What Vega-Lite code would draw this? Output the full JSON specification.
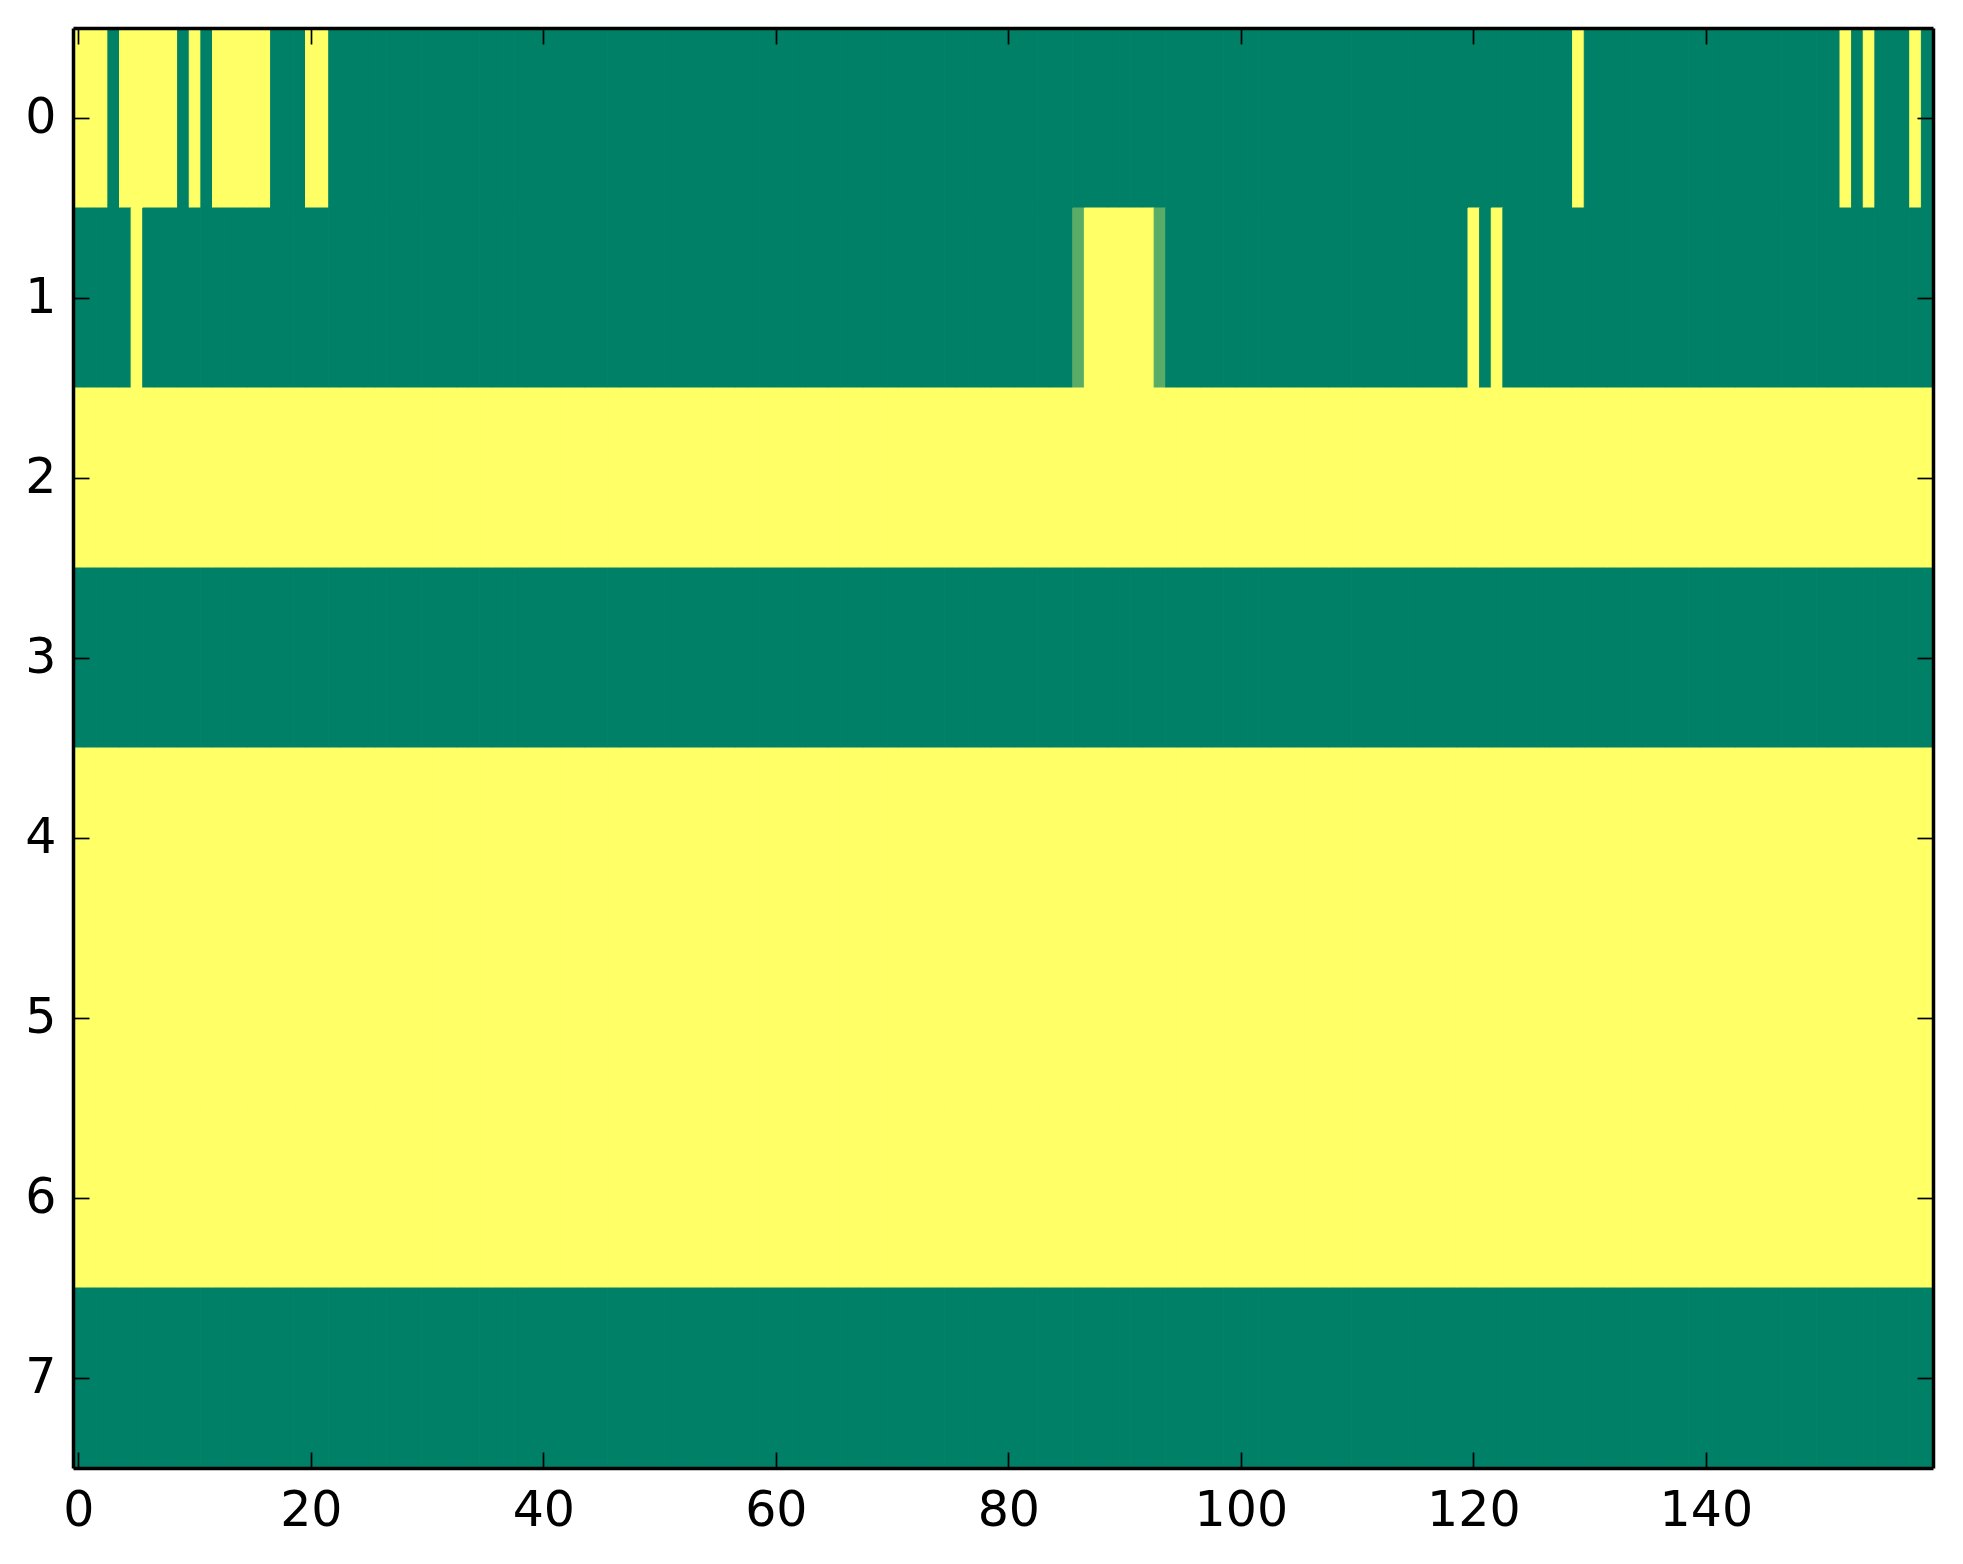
{
"$schema": "https://vega.github.io/schema/vega-lite/v6.json",
"width": 1860,
"height": 1440,
"autosize": {"type": "none"},
"padding": {"left": 73, "top": 28, "right": 30, "bottom": 96},
"background": "white",
"config": {
  "view": {"stroke": null},
  "axis": {"grid": false, "title": null, "domain": true, "domainColor": "black", "domainWidth": 3.5, "tickColor": "black", "tickWidth": 1.7, "tickSize": -16, "labelFont": "DejaVu Sans", "labelFontSize": 49, "labelColor": "black", "labelAngle": 0}
},
"data": {
  "format": {"type": "csv", "parse": {"r": "number", "c": "number", "v": "number"}},
  "values": "r,c,v\n0,0,1\n0,1,1\n0,2,1\n0,3,0\n0,4,1\n0,5,1\n0,6,1\n0,7,1\n0,8,1\n0,9,0\n0,10,1\n0,11,0\n0,12,1\n0,13,1\n0,14,1\n0,15,1\n0,16,1\n0,17,0\n0,18,0\n0,19,0\n0,20,1\n0,21,1\n0,22,0\n0,23,0\n0,24,0\n0,25,0\n0,26,0\n0,27,0\n0,28,0\n0,29,0\n0,30,0\n0,31,0\n0,32,0\n0,33,0\n0,34,0\n0,35,0\n0,36,0\n0,37,0\n0,38,0\n0,39,0\n0,40,0\n0,41,0\n0,42,0\n0,43,0\n0,44,0\n0,45,0\n0,46,0\n0,47,0\n0,48,0\n0,49,0\n0,50,0\n0,51,0\n0,52,0\n0,53,0\n0,54,0\n0,55,0\n0,56,0\n0,57,0\n0,58,0\n0,59,0\n0,60,0\n0,61,0\n0,62,0\n0,63,0\n0,64,0\n0,65,0\n0,66,0\n0,67,0\n0,68,0\n0,69,0\n0,70,0\n0,71,0\n0,72,0\n0,73,0\n0,74,0\n0,75,0\n0,76,0\n0,77,0\n0,78,0\n0,79,0\n0,80,0\n0,81,0\n0,82,0\n0,83,0\n0,84,0\n0,85,0\n0,86,0\n0,87,0\n0,88,0\n0,89,0\n0,90,0\n0,91,0\n0,92,0\n0,93,0\n0,94,0\n0,95,0\n0,96,0\n0,97,0\n0,98,0\n0,99,0\n0,100,0\n0,101,0\n0,102,0\n0,103,0\n0,104,0\n0,105,0\n0,106,0\n0,107,0\n0,108,0\n0,109,0\n0,110,0\n0,111,0\n0,112,0\n0,113,0\n0,114,0\n0,115,0\n0,116,0\n0,117,0\n0,118,0\n0,119,0\n0,120,0\n0,121,0\n0,122,0\n0,123,0\n0,124,0\n0,125,0\n0,126,0\n0,127,0\n0,128,0\n0,129,1\n0,130,0\n0,131,0\n0,132,0\n0,133,0\n0,134,0\n0,135,0\n0,136,0\n0,137,0\n0,138,0\n0,139,0\n0,140,0\n0,141,0\n0,142,0\n0,143,0\n0,144,0\n0,145,0\n0,146,0\n0,147,0\n0,148,0\n0,149,0\n0,150,0\n0,151,0\n0,152,1\n0,153,0\n0,154,1\n0,155,0\n0,156,0\n0,157,0\n0,158,1\n0,159,0\n1,0,0\n1,1,0\n1,2,0\n1,3,0\n1,4,0\n1,5,1\n1,6,0\n1,7,0\n1,8,0\n1,9,0\n1,10,0\n1,11,0\n1,12,0\n1,13,0\n1,14,0\n1,15,0\n1,16,0\n1,17,0\n1,18,0\n1,19,0\n1,20,0\n1,21,0\n1,22,0\n1,23,0\n1,24,0\n1,25,0\n1,26,0\n1,27,0\n1,28,0\n1,29,0\n1,30,0\n1,31,0\n1,32,0\n1,33,0\n1,34,0\n1,35,0\n1,36,0\n1,37,0\n1,38,0\n1,39,0\n1,40,0\n1,41,0\n1,42,0\n1,43,0\n1,44,0\n1,45,0\n1,46,0\n1,47,0\n1,48,0\n1,49,0\n1,50,0\n1,51,0\n1,52,0\n1,53,0\n1,54,0\n1,55,0\n1,56,0\n1,57,0\n1,58,0\n1,59,0\n1,60,0\n1,61,0\n1,62,0\n1,63,0\n1,64,0\n1,65,0\n1,66,0\n1,67,0\n1,68,0\n1,69,0\n1,70,0\n1,71,0\n1,72,0\n1,73,0\n1,74,0\n1,75,0\n1,76,0\n1,77,0\n1,78,0\n1,79,0\n1,80,0\n1,81,0\n1,82,0\n1,83,0\n1,84,0\n1,85,0\n1,86,0.35\n1,87,1\n1,88,1\n1,89,1\n1,90,1\n1,91,1\n1,92,1\n1,93,0.35\n1,94,0\n1,95,0\n1,96,0\n1,97,0\n1,98,0\n1,99,0\n1,100,0\n1,101,0\n1,102,0\n1,103,0\n1,104,0\n1,105,0\n1,106,0\n1,107,0\n1,108,0\n1,109,0\n1,110,0\n1,111,0\n1,112,0\n1,113,0\n1,114,0\n1,115,0\n1,116,0\n1,117,0\n1,118,0\n1,119,0\n1,120,1\n1,121,0\n1,122,1\n1,123,0\n1,124,0\n1,125,0\n1,126,0\n1,127,0\n1,128,0\n1,129,0\n1,130,0\n1,131,0\n1,132,0\n1,133,0\n1,134,0\n1,135,0\n1,136,0\n1,137,0\n1,138,0\n1,139,0\n1,140,0\n1,141,0\n1,142,0\n1,143,0\n1,144,0\n1,145,0\n1,146,0\n1,147,0\n1,148,0\n1,149,0\n1,150,0\n1,151,0\n1,152,0\n1,153,0\n1,154,0\n1,155,0\n1,156,0\n1,157,0\n1,158,0\n1,159,0\n2,0,1\n2,1,1\n2,2,1\n2,3,1\n2,4,1\n2,5,1\n2,6,1\n2,7,1\n2,8,1\n2,9,1\n2,10,1\n2,11,1\n2,12,1\n2,13,1\n2,14,1\n2,15,1\n2,16,1\n2,17,1\n2,18,1\n2,19,1\n2,20,1\n2,21,1\n2,22,1\n2,23,1\n2,24,1\n2,25,1\n2,26,1\n2,27,1\n2,28,1\n2,29,1\n2,30,1\n2,31,1\n2,32,1\n2,33,1\n2,34,1\n2,35,1\n2,36,1\n2,37,1\n2,38,1\n2,39,1\n2,40,1\n2,41,1\n2,42,1\n2,43,1\n2,44,1\n2,45,1\n2,46,1\n2,47,1\n2,48,1\n2,49,1\n2,50,1\n2,51,1\n2,52,1\n2,53,1\n2,54,1\n2,55,1\n2,56,1\n2,57,1\n2,58,1\n2,59,1\n2,60,1\n2,61,1\n2,62,1\n2,63,1\n2,64,1\n2,65,1\n2,66,1\n2,67,1\n2,68,1\n2,69,1\n2,70,1\n2,71,1\n2,72,1\n2,73,1\n2,74,1\n2,75,1\n2,76,1\n2,77,1\n2,78,1\n2,79,1\n2,80,1\n2,81,1\n2,82,1\n2,83,1\n2,84,1\n2,85,1\n2,86,1\n2,87,1\n2,88,1\n2,89,1\n2,90,1\n2,91,1\n2,92,1\n2,93,1\n2,94,1\n2,95,1\n2,96,1\n2,97,1\n2,98,1\n2,99,1\n2,100,1\n2,101,1\n2,102,1\n2,103,1\n2,104,1\n2,105,1\n2,106,1\n2,107,1\n2,108,1\n2,109,1\n2,110,1\n2,111,1\n2,112,1\n2,113,1\n2,114,1\n2,115,1\n2,116,1\n2,117,1\n2,118,1\n2,119,1\n2,120,1\n2,121,1\n2,122,1\n2,123,1\n2,124,1\n2,125,1\n2,126,1\n2,127,1\n2,128,1\n2,129,1\n2,130,1\n2,131,1\n2,132,1\n2,133,1\n2,134,1\n2,135,1\n2,136,1\n2,137,1\n2,138,1\n2,139,1\n2,140,1\n2,141,1\n2,142,1\n2,143,1\n2,144,1\n2,145,1\n2,146,1\n2,147,1\n2,148,1\n2,149,1\n2,150,1\n2,151,1\n2,152,1\n2,153,1\n2,154,1\n2,155,1\n2,156,1\n2,157,1\n2,158,1\n2,159,1\n3,0,0\n3,1,0\n3,2,0\n3,3,0\n3,4,0\n3,5,0\n3,6,0\n3,7,0\n3,8,0\n3,9,0\n3,10,0\n3,11,0\n3,12,0\n3,13,0\n3,14,0\n3,15,0\n3,16,0\n3,17,0\n3,18,0\n3,19,0\n3,20,0\n3,21,0\n3,22,0\n3,23,0\n3,24,0\n3,25,0\n3,26,0\n3,27,0\n3,28,0\n3,29,0\n3,30,0\n3,31,0\n3,32,0\n3,33,0\n3,34,0\n3,35,0\n3,36,0\n3,37,0\n3,38,0\n3,39,0\n3,40,0\n3,41,0\n3,42,0\n3,43,0\n3,44,0\n3,45,0\n3,46,0\n3,47,0\n3,48,0\n3,49,0\n3,50,0\n3,51,0\n3,52,0\n3,53,0\n3,54,0\n3,55,0\n3,56,0\n3,57,0\n3,58,0\n3,59,0\n3,60,0\n3,61,0\n3,62,0\n3,63,0\n3,64,0\n3,65,0\n3,66,0\n3,67,0\n3,68,0\n3,69,0\n3,70,0\n3,71,0\n3,72,0\n3,73,0\n3,74,0\n3,75,0\n3,76,0\n3,77,0\n3,78,0\n3,79,0\n3,80,0\n3,81,0\n3,82,0\n3,83,0\n3,84,0\n3,85,0\n3,86,0\n3,87,0\n3,88,0\n3,89,0\n3,90,0\n3,91,0\n3,92,0\n3,93,0\n3,94,0\n3,95,0\n3,96,0\n3,97,0\n3,98,0\n3,99,0\n3,100,0\n3,101,0\n3,102,0\n3,103,0\n3,104,0\n3,105,0\n3,106,0\n3,107,0\n3,108,0\n3,109,0\n3,110,0\n3,111,0\n3,112,0\n3,113,0\n3,114,0\n3,115,0\n3,116,0\n3,117,0\n3,118,0\n3,119,0\n3,120,0\n3,121,0\n3,122,0\n3,123,0\n3,124,0\n3,125,0\n3,126,0\n3,127,0\n3,128,0\n3,129,0\n3,130,0\n3,131,0\n3,132,0\n3,133,0\n3,134,0\n3,135,0\n3,136,0\n3,137,0\n3,138,0\n3,139,0\n3,140,0\n3,141,0\n3,142,0\n3,143,0\n3,144,0\n3,145,0\n3,146,0\n3,147,0\n3,148,0\n3,149,0\n3,150,0\n3,151,0\n3,152,0\n3,153,0\n3,154,0\n3,155,0\n3,156,0\n3,157,0\n3,158,0\n3,159,0\n4,0,1\n4,1,1\n4,2,1\n4,3,1\n4,4,1\n4,5,1\n4,6,1\n4,7,1\n4,8,1\n4,9,1\n4,10,1\n4,11,1\n4,12,1\n4,13,1\n4,14,1\n4,15,1\n4,16,1\n4,17,1\n4,18,1\n4,19,1\n4,20,1\n4,21,1\n4,22,1\n4,23,1\n4,24,1\n4,25,1\n4,26,1\n4,27,1\n4,28,1\n4,29,1\n4,30,1\n4,31,1\n4,32,1\n4,33,1\n4,34,1\n4,35,1\n4,36,1\n4,37,1\n4,38,1\n4,39,1\n4,40,1\n4,41,1\n4,42,1\n4,43,1\n4,44,1\n4,45,1\n4,46,1\n4,47,1\n4,48,1\n4,49,1\n4,50,1\n4,51,1\n4,52,1\n4,53,1\n4,54,1\n4,55,1\n4,56,1\n4,57,1\n4,58,1\n4,59,1\n4,60,1\n4,61,1\n4,62,1\n4,63,1\n4,64,1\n4,65,1\n4,66,1\n4,67,1\n4,68,1\n4,69,1\n4,70,1\n4,71,1\n4,72,1\n4,73,1\n4,74,1\n4,75,1\n4,76,1\n4,77,1\n4,78,1\n4,79,1\n4,80,1\n4,81,1\n4,82,1\n4,83,1\n4,84,1\n4,85,1\n4,86,1\n4,87,1\n4,88,1\n4,89,1\n4,90,1\n4,91,1\n4,92,1\n4,93,1\n4,94,1\n4,95,1\n4,96,1\n4,97,1\n4,98,1\n4,99,1\n4,100,1\n4,101,1\n4,102,1\n4,103,1\n4,104,1\n4,105,1\n4,106,1\n4,107,1\n4,108,1\n4,109,1\n4,110,1\n4,111,1\n4,112,1\n4,113,1\n4,114,1\n4,115,1\n4,116,1\n4,117,1\n4,118,1\n4,119,1\n4,120,1\n4,121,1\n4,122,1\n4,123,1\n4,124,1\n4,125,1\n4,126,1\n4,127,1\n4,128,1\n4,129,1\n4,130,1\n4,131,1\n4,132,1\n4,133,1\n4,134,1\n4,135,1\n4,136,1\n4,137,1\n4,138,1\n4,139,1\n4,140,1\n4,141,1\n4,142,1\n4,143,1\n4,144,1\n4,145,1\n4,146,1\n4,147,1\n4,148,1\n4,149,1\n4,150,1\n4,151,1\n4,152,1\n4,153,1\n4,154,1\n4,155,1\n4,156,1\n4,157,1\n4,158,1\n4,159,1\n5,0,1\n5,1,1\n5,2,1\n5,3,1\n5,4,1\n5,5,1\n5,6,1\n5,7,1\n5,8,1\n5,9,1\n5,10,1\n5,11,1\n5,12,1\n5,13,1\n5,14,1\n5,15,1\n5,16,1\n5,17,1\n5,18,1\n5,19,1\n5,20,1\n5,21,1\n5,22,1\n5,23,1\n5,24,1\n5,25,1\n5,26,1\n5,27,1\n5,28,1\n5,29,1\n5,30,1\n5,31,1\n5,32,1\n5,33,1\n5,34,1\n5,35,1\n5,36,1\n5,37,1\n5,38,1\n5,39,1\n5,40,1\n5,41,1\n5,42,1\n5,43,1\n5,44,1\n5,45,1\n5,46,1\n5,47,1\n5,48,1\n5,49,1\n5,50,1\n5,51,1\n5,52,1\n5,53,1\n5,54,1\n5,55,1\n5,56,1\n5,57,1\n5,58,1\n5,59,1\n5,60,1\n5,61,1\n5,62,1\n5,63,1\n5,64,1\n5,65,1\n5,66,1\n5,67,1\n5,68,1\n5,69,1\n5,70,1\n5,71,1\n5,72,1\n5,73,1\n5,74,1\n5,75,1\n5,76,1\n5,77,1\n5,78,1\n5,79,1\n5,80,1\n5,81,1\n5,82,1\n5,83,1\n5,84,1\n5,85,1\n5,86,1\n5,87,1\n5,88,1\n5,89,1\n5,90,1\n5,91,1\n5,92,1\n5,93,1\n5,94,1\n5,95,1\n5,96,1\n5,97,1\n5,98,1\n5,99,1\n5,100,1\n5,101,1\n5,102,1\n5,103,1\n5,104,1\n5,105,1\n5,106,1\n5,107,1\n5,108,1\n5,109,1\n5,110,1\n5,111,1\n5,112,1\n5,113,1\n5,114,1\n5,115,1\n5,116,1\n5,117,1\n5,118,1\n5,119,1\n5,120,1\n5,121,1\n5,122,1\n5,123,1\n5,124,1\n5,125,1\n5,126,1\n5,127,1\n5,128,1\n5,129,1\n5,130,1\n5,131,1\n5,132,1\n5,133,1\n5,134,1\n5,135,1\n5,136,1\n5,137,1\n5,138,1\n5,139,1\n5,140,1\n5,141,1\n5,142,1\n5,143,1\n5,144,1\n5,145,1\n5,146,1\n5,147,1\n5,148,1\n5,149,1\n5,150,1\n5,151,1\n5,152,1\n5,153,1\n5,154,1\n5,155,1\n5,156,1\n5,157,1\n5,158,1\n5,159,1\n6,0,1\n6,1,1\n6,2,1\n6,3,1\n6,4,1\n6,5,1\n6,6,1\n6,7,1\n6,8,1\n6,9,1\n6,10,1\n6,11,1\n6,12,1\n6,13,1\n6,14,1\n6,15,1\n6,16,1\n6,17,1\n6,18,1\n6,19,1\n6,20,1\n6,21,1\n6,22,1\n6,23,1\n6,24,1\n6,25,1\n6,26,1\n6,27,1\n6,28,1\n6,29,1\n6,30,1\n6,31,1\n6,32,1\n6,33,1\n6,34,1\n6,35,1\n6,36,1\n6,37,1\n6,38,1\n6,39,1\n6,40,1\n6,41,1\n6,42,1\n6,43,1\n6,44,1\n6,45,1\n6,46,1\n6,47,1\n6,48,1\n6,49,1\n6,50,1\n6,51,1\n6,52,1\n6,53,1\n6,54,1\n6,55,1\n6,56,1\n6,57,1\n6,58,1\n6,59,1\n6,60,1\n6,61,1\n6,62,1\n6,63,1\n6,64,1\n6,65,1\n6,66,1\n6,67,1\n6,68,1\n6,69,1\n6,70,1\n6,71,1\n6,72,1\n6,73,1\n6,74,1\n6,75,1\n6,76,1\n6,77,1\n6,78,1\n6,79,1\n6,80,1\n6,81,1\n6,82,1\n6,83,1\n6,84,1\n6,85,1\n6,86,1\n6,87,1\n6,88,1\n6,89,1\n6,90,1\n6,91,1\n6,92,1\n6,93,1\n6,94,1\n6,95,1\n6,96,1\n6,97,1\n6,98,1\n6,99,1\n6,100,1\n6,101,1\n6,102,1\n6,103,1\n6,104,1\n6,105,1\n6,106,1\n6,107,1\n6,108,1\n6,109,1\n6,110,1\n6,111,1\n6,112,1\n6,113,1\n6,114,1\n6,115,1\n6,116,1\n6,117,1\n6,118,1\n6,119,1\n6,120,1\n6,121,1\n6,122,1\n6,123,1\n6,124,1\n6,125,1\n6,126,1\n6,127,1\n6,128,1\n6,129,1\n6,130,1\n6,131,1\n6,132,1\n6,133,1\n6,134,1\n6,135,1\n6,136,1\n6,137,1\n6,138,1\n6,139,1\n6,140,1\n6,141,1\n6,142,1\n6,143,1\n6,144,1\n6,145,1\n6,146,1\n6,147,1\n6,148,1\n6,149,1\n6,150,1\n6,151,1\n6,152,1\n6,153,1\n6,154,1\n6,155,1\n6,156,1\n6,157,1\n6,158,1\n6,159,1\n7,0,0\n7,1,0\n7,2,0\n7,3,0\n7,4,0\n7,5,0\n7,6,0\n7,7,0\n7,8,0\n7,9,0\n7,10,0\n7,11,0\n7,12,0\n7,13,0\n7,14,0\n7,15,0\n7,16,0\n7,17,0\n7,18,0\n7,19,0\n7,20,0\n7,21,0\n7,22,0\n7,23,0\n7,24,0\n7,25,0\n7,26,0\n7,27,0\n7,28,0\n7,29,0\n7,30,0\n7,31,0\n7,32,0\n7,33,0\n7,34,0\n7,35,0\n7,36,0\n7,37,0\n7,38,0\n7,39,0\n7,40,0\n7,41,0\n7,42,0\n7,43,0\n7,44,0\n7,45,0\n7,46,0\n7,47,0\n7,48,0\n7,49,0\n7,50,0\n7,51,0\n7,52,0\n7,53,0\n7,54,0\n7,55,0\n7,56,0\n7,57,0\n7,58,0\n7,59,0\n7,60,0\n7,61,0\n7,62,0\n7,63,0\n7,64,0\n7,65,0\n7,66,0\n7,67,0\n7,68,0\n7,69,0\n7,70,0\n7,71,0\n7,72,0\n7,73,0\n7,74,0\n7,75,0\n7,76,0\n7,77,0\n7,78,0\n7,79,0\n7,80,0\n7,81,0\n7,82,0\n7,83,0\n7,84,0\n7,85,0\n7,86,0\n7,87,0\n7,88,0\n7,89,0\n7,90,0\n7,91,0\n7,92,0\n7,93,0\n7,94,0\n7,95,0\n7,96,0\n7,97,0\n7,98,0\n7,99,0\n7,100,0\n7,101,0\n7,102,0\n7,103,0\n7,104,0\n7,105,0\n7,106,0\n7,107,0\n7,108,0\n7,109,0\n7,110,0\n7,111,0\n7,112,0\n7,113,0\n7,114,0\n7,115,0\n7,116,0\n7,117,0\n7,118,0\n7,119,0\n7,120,0\n7,121,0\n7,122,0\n7,123,0\n7,124,0\n7,125,0\n7,126,0\n7,127,0\n7,128,0\n7,129,0\n7,130,0\n7,131,0\n7,132,0\n7,133,0\n7,134,0\n7,135,0\n7,136,0\n7,137,0\n7,138,0\n7,139,0\n7,140,0\n7,141,0\n7,142,0\n7,143,0\n7,144,0\n7,145,0\n7,146,0\n7,147,0\n7,148,0\n7,149,0\n7,150,0\n7,151,0\n7,152,0\n7,153,0\n7,154,0\n7,155,0\n7,156,0\n7,157,0\n7,158,0\n7,159,0"
},
"layer": [
  {
    "mark": {"type": "rect", "strokeWidth": 1},
    "encoding": {
      "x": {"field": "c", "type": "ordinal", "scale": {"paddingInner": 0, "paddingOuter": 0},
            "axis": {"orient": "bottom", "zindex": 1, "values": [0, 20, 40, 60, 80, 100, 120, 140], "labelPadding": 34}},
      "y": {"field": "r", "type": "ordinal", "scale": {"paddingInner": 0, "paddingOuter": 0},
            "axis": {"orient": "left", "zindex": 1, "labelPadding": 33}},
      "color": {"field": "v", "type": "quantitative", "scale": {"domain": [0, 1], "range": ["#008066", "#ffff66"], "interpolate": "rgb"}, "legend": null},
      "stroke": {"field": "v", "type": "quantitative", "scale": {"domain": [0, 1], "range": ["#008066", "#ffff66"], "interpolate": "rgb"}, "legend": null}
    }
  },
  {
    "mark": {"type": "rect", "opacity": 0},
    "encoding": {
      "x": {"field": "c", "type": "ordinal",
            "axis": {"orient": "top", "zindex": 1, "values": [0, 20, 40, 60, 80, 100, 120, 140], "labels": false}},
      "y": {"field": "r", "type": "ordinal",
            "axis": {"orient": "right", "zindex": 1, "labels": false}}
    }
  }
],
"resolve": {"axis": {"x": "independent", "y": "independent"}}
}
